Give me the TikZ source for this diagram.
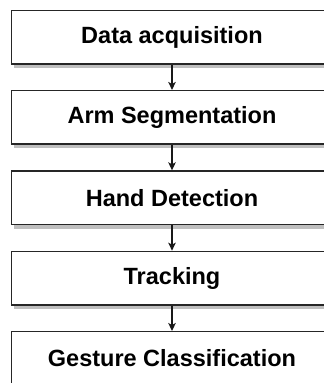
\documentclass[tikz,border=0pt]{standalone}
\usepackage{fontspec}
\setmainfont{Liberation Sans}
\usetikzlibrary{arrows.meta,shadows}
\tikzset{
  stepbox/.style={draw=black!85, line width=1.4pt, fill=white,
    minimum width=320.5pt, minimum height=53.5pt, inner sep=0pt,
    font=\fontsize{23.5}{27}\selectfont\bfseries,
    drop shadow={shadow xshift=2pt, shadow yshift=-4pt, fill=black!25, opacity=1}},
  flow/.style={draw=black!90, line width=1.2pt, -{Stealth[length=8pt,width=7.5pt,inset=2pt]}}
}
\begin{document}
\begin{tikzpicture}[x=1pt,y=-1pt]
  \useasboundingbox (0,0) rectangle (324,383);
  \clip (0,0) rectangle (324,383);
  \fill[white] (0,0) rectangle (324,383);
  % pipeline stages
  \node[stepbox] (s1) at (172,37.05)  {Data acquisition};
  \node[stepbox] (s2) at (172,117.4)  {Arm Segmentation};
  \node[stepbox] (s3) at (172,197.75) {Hand Detection};
  \node[stepbox] (s4) at (172,278.1)  {Tracking};
  \node[stepbox] (s5) at (172,358.45) {Gesture Classification};
  % connectors
  \draw[flow] (s1.south) -- (s2.north);
  \draw[flow] (s2.south) -- (s3.north);
  \draw[flow] (s3.south) -- (s4.north);
  \draw[flow] (s4.south) -- (s5.north);
\end{tikzpicture}
\end{document}
